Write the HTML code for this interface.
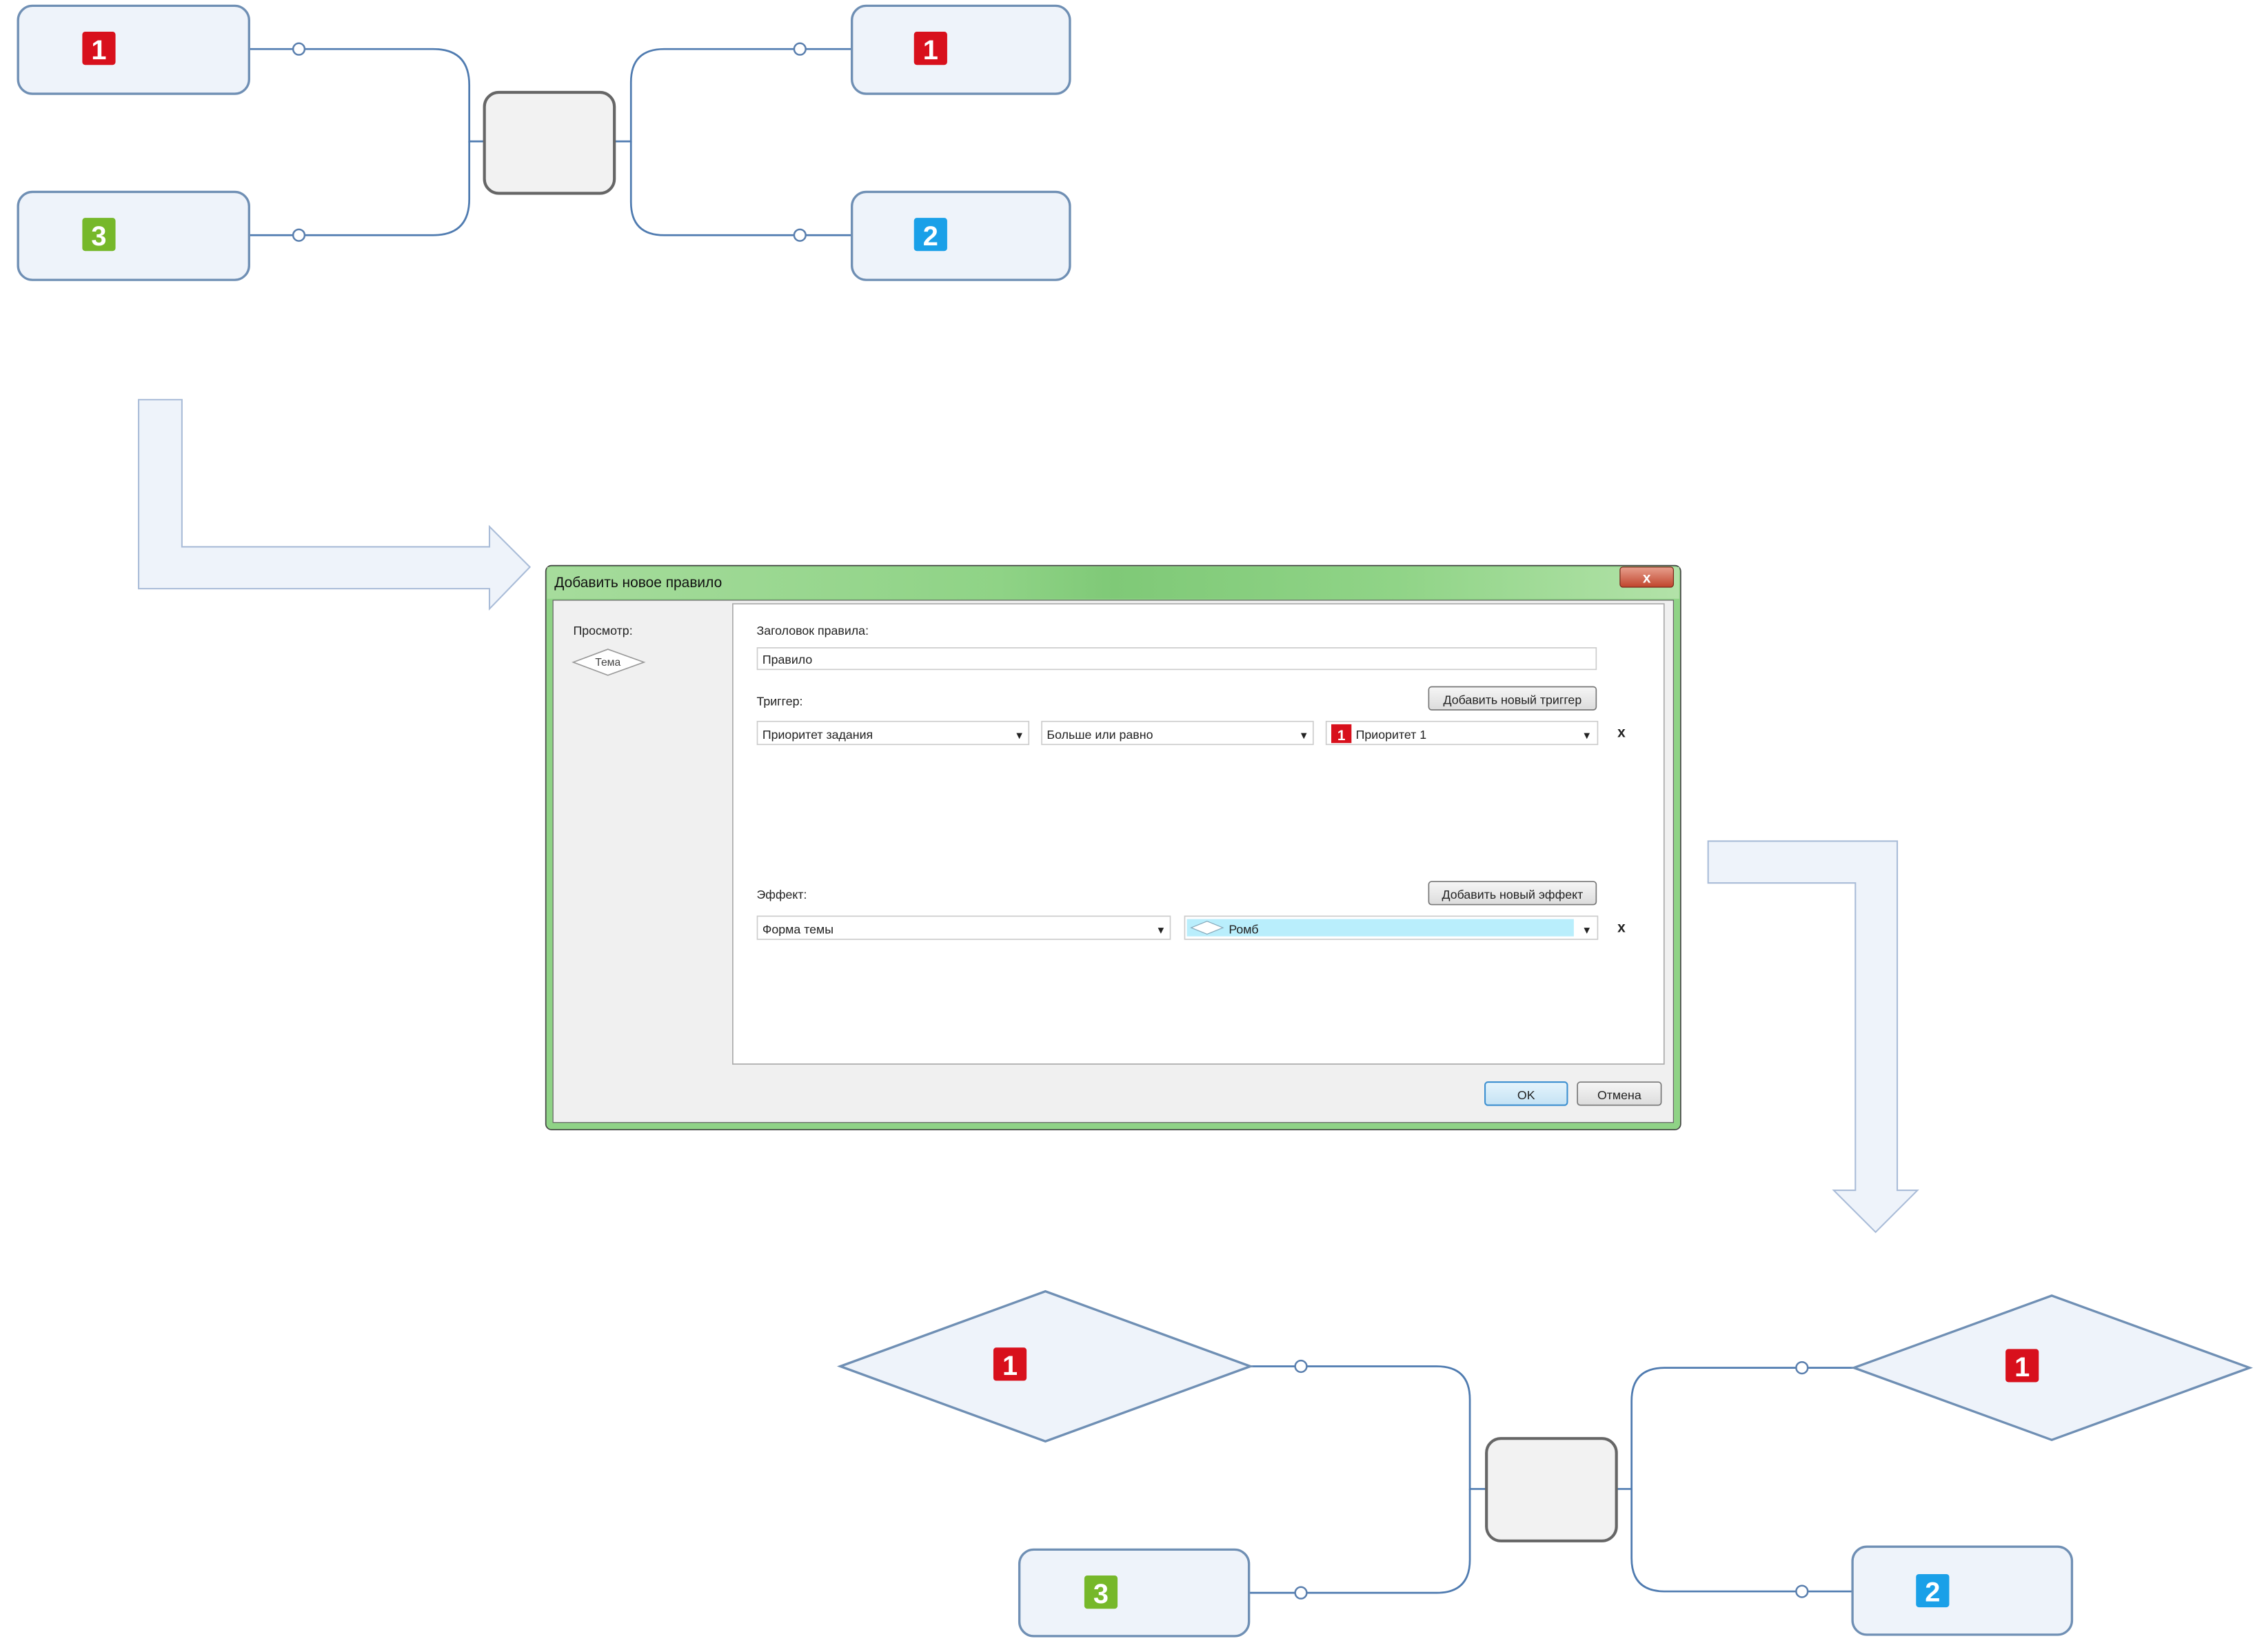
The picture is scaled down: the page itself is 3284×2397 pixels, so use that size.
<!DOCTYPE html>
<html><head><meta charset="utf-8"><style>
html,body{margin:0;padding:0;background:#fff;}
svg{display:block;}
text{font-family:"Liberation Sans","DejaVu Sans",sans-serif;}
</style></head><body>
<svg width="3284" height="2397" viewBox="0 0 1568 1145" preserveAspectRatio="none" xmlns="http://www.w3.org/2000/svg">
<defs>
<linearGradient id="tb" x1="0" y1="0" x2="1" y2="0">
<stop offset="0" stop-color="#a6dc9c"/><stop offset="0.4" stop-color="#8fd386"/><stop offset="0.5" stop-color="#7fc977"/><stop offset="0.75" stop-color="#90d487"/><stop offset="1" stop-color="#b2e2a8"/>
</linearGradient>
<linearGradient id="ok" x1="0" y1="0" x2="0" y2="1"><stop offset="0" stop-color="#e5f4fc"/><stop offset="1" stop-color="#c4e2f4"/></linearGradient>
<linearGradient id="bt" x1="0" y1="0" x2="0" y2="1"><stop offset="0" stop-color="#f6f6f6"/><stop offset="1" stop-color="#dcdcdc"/></linearGradient>
<linearGradient id="xb" x1="0" y1="0" x2="0" y2="1"><stop offset="0" stop-color="#e8a08e"/><stop offset="1" stop-color="#c0442c"/></linearGradient>
</defs>

<!-- ===== TOP DIAGRAM ===== -->
<g fill="none" stroke="#4f7bb0" stroke-width="1.3">
<path d="M172,34 H300 Q325,34 325,59 V98 H335"/>
<path d="M172,163 H300 Q325,163 325,138 V98"/>
<path d="M590,34 H460 Q437,34 437,57 V98 H426"/>
<path d="M590,163 H460 Q437,163 437,140 V98"/>
</g>
<g fill="#fff" stroke="#5a7fae" stroke-width="1.2">
<circle cx="207" cy="34" r="4"/><circle cx="207" cy="163" r="4"/>
<circle cx="554" cy="34" r="4"/><circle cx="554" cy="163" r="4"/>
</g>
<g fill="#eef3fa" stroke="#6f8fb4" stroke-width="1.6">
<rect x="12.5" y="4" width="160" height="61" rx="10"/>
<rect x="12.5" y="133" width="160" height="61" rx="10"/>
<rect x="590" y="4" width="151" height="61" rx="10"/>
<rect x="590" y="133" width="151" height="61" rx="10"/>
</g>
<rect x="335.5" y="64" width="90" height="70" rx="10" fill="#f2f2f2" stroke="#666" stroke-width="2"/>
<g font-weight="bold" font-size="19" fill="#fff" text-anchor="middle">
<rect x="57" y="22" width="23" height="23" rx="2" fill="#d8101c"/><text x="68.5" y="41">1</text>
<rect x="57" y="151" width="23" height="23" rx="2" fill="#76b82a"/><text x="68.5" y="170">3</text>
<rect x="633" y="22" width="23" height="23" rx="2" fill="#d8101c"/><text x="644.5" y="41">1</text>
<rect x="633" y="151" width="23" height="23" rx="2" fill="#1aa0e8"/><text x="644.5" y="170">2</text>
</g>

<!-- ===== ARROWS ===== -->
<polygon points="96,277 126,277 126,379 339,379 339,365 367,393 339,422 339,408 96,408" fill="#eef3fa" stroke="#a9bcd8" stroke-width="1"/>
<polygon points="1183,583 1314,583 1314,825 1328,825 1299,854 1270,825 1285,825 1285,612 1183,612" fill="#eef3fa" stroke="#a9bcd8" stroke-width="1"/>

<!-- ===== DIALOG ===== -->
<rect x="378" y="392" width="786" height="391" rx="4" fill="#8fd386" stroke="#444" stroke-width="0.8"/>
<rect x="379" y="393" width="784" height="22" fill="url(#tb)"/>
<text x="384" y="407" font-size="10" fill="#111">Добавить новое правило</text>
<rect x="1122" y="393" width="37" height="14" rx="2" fill="url(#xb)" stroke="#7a2a1c" stroke-width="0.6"/>
<text x="1140.5" y="404" font-size="10" font-weight="bold" fill="#fff" text-anchor="middle">x</text>
<rect x="383" y="416" width="776" height="362" fill="#f0f0f0" stroke="#666" stroke-width="0.6"/>
<rect x="507.5" y="418.5" width="645" height="319" fill="#fff" stroke="#aaa" stroke-width="0.8"/>
<g font-size="8.5" fill="#222">
<text x="397" y="440">Просмотр:</text>
<polygon points="397,459 421,450 446,459 421,468" fill="#fff" stroke="#999" stroke-width="0.8"/>
<text x="421" y="461.5" font-size="7.5" fill="#444" text-anchor="middle">Тема</text>
<text x="524" y="440">Заголовок правила:</text>
<rect x="524.5" y="449" width="581" height="15" fill="#fff" stroke="#ccc" stroke-width="0.8"/>
<text x="528" y="460">Правило</text>
<text x="524" y="489">Триггер:</text>
<rect x="989.5" y="476" width="116" height="16" rx="2" fill="url(#bt)" stroke="#777" stroke-width="0.8"/>
<text x="1047.5" y="488" text-anchor="middle">Добавить новый триггер</text>
<rect x="524.5" y="500" width="188" height="16" fill="#fff" stroke="#ccc" stroke-width="0.8"/>
<text x="528" y="512">Приоритет задания</text>
<text x="706" y="512" font-size="7" text-anchor="middle">▼</text>
<rect x="721.5" y="500" width="188" height="16" fill="#fff" stroke="#ccc" stroke-width="0.8"/>
<text x="725" y="512">Больше или равно</text>
<text x="903" y="512" font-size="7" text-anchor="middle">▼</text>
<rect x="918.5" y="500" width="188" height="16" fill="#fff" stroke="#ccc" stroke-width="0.8"/>
<rect x="922" y="502" width="14" height="13" fill="#d8101c"/>
<text x="929" y="513" font-weight="bold" fill="#fff" font-size="10" text-anchor="middle">1</text>
<text x="939" y="512">Приоритет 1</text>
<text x="1099" y="512" font-size="7" text-anchor="middle">▼</text>
<text x="1123" y="511" font-weight="bold" font-size="10" text-anchor="middle">x</text>
<text x="524" y="623">Эффект:</text>
<rect x="989.5" y="611" width="116" height="16" rx="2" fill="url(#bt)" stroke="#777" stroke-width="0.8"/>
<text x="1047.5" y="623" text-anchor="middle">Добавить новый эффект</text>
<rect x="524.5" y="635" width="286" height="16" fill="#fff" stroke="#ccc" stroke-width="0.8"/>
<text x="528" y="647">Форма темы</text>
<text x="804" y="647" font-size="7" text-anchor="middle">▼</text>
<rect x="820.5" y="635" width="286" height="16" fill="#fff" stroke="#ccc" stroke-width="0.8"/>
<rect x="822" y="637" width="268" height="12" fill="#b9eefc"/>
<polygon points="825,643 836,638.5 847,643 836,647.5" fill="#fff" stroke="#8ab" stroke-width="0.6"/>
<text x="851" y="647">Ромб</text>
<text x="1099" y="647" font-size="7" text-anchor="middle">▼</text>
<text x="1123" y="646" font-weight="bold" font-size="10" text-anchor="middle">x</text>
<rect x="1028.5" y="750" width="57" height="16" rx="2" fill="url(#ok)" stroke="#3c8fd0" stroke-width="1"/>
<text x="1057" y="762" text-anchor="middle">OK</text>
<rect x="1092.5" y="750" width="58" height="16" rx="2" fill="url(#bt)" stroke="#777" stroke-width="0.8"/>
<text x="1121.5" y="762" text-anchor="middle">Отмена</text>
</g>

<!-- ===== BOTTOM DIAGRAM ===== -->
<g fill="none" stroke="#4f7bb0" stroke-width="1.3">
<path d="M866,947 H995 Q1018,947 1018,970 V1032 H1029"/>
<path d="M865,1104 H995 Q1018,1104 1018,1081 V1032"/>
<path d="M1284,948 H1153 Q1130,948 1130,971 V1032 H1119"/>
<path d="M1283,1103 H1153 Q1130,1103 1130,1080 V1032"/>
</g>
<g fill="#fff" stroke="#5a7fae" stroke-width="1.2">
<circle cx="901" cy="947" r="4"/><circle cx="901" cy="1104" r="4"/>
<circle cx="1248" cy="948" r="4"/><circle cx="1248" cy="1103" r="4"/>
</g>
<g fill="#eef3fa" stroke="#6f8fb4" stroke-width="1.6">
<polygon points="582,947 724,895 866,947 724,999"/>
<polygon points="1284,948 1421,898 1558,948 1421,998"/>
<rect x="706" y="1074" width="159" height="60" rx="10"/>
<rect x="1283" y="1072" width="152" height="61" rx="10"/>
</g>
<rect x="1029.5" y="997" width="90" height="71" rx="10" fill="#f2f2f2" stroke="#666" stroke-width="2"/>
<g font-weight="bold" font-size="19" fill="#fff" text-anchor="middle">
<rect x="688" y="934" width="23" height="23" rx="2" fill="#d8101c"/><text x="699.5" y="953">1</text>
<rect x="1389" y="935" width="23" height="23" rx="2" fill="#d8101c"/><text x="1400.5" y="954">1</text>
<rect x="751" y="1092" width="23" height="23" rx="2" fill="#76b82a"/><text x="762.5" y="1111">3</text>
<rect x="1327" y="1091" width="23" height="23" rx="2" fill="#1aa0e8"/><text x="1338.5" y="1110">2</text>
</g>
</svg>
</body></html>
